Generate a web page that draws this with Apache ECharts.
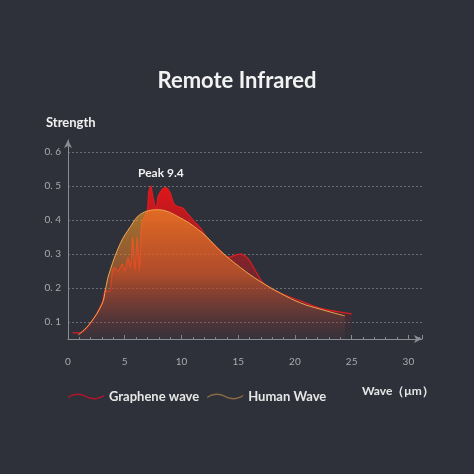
<!DOCTYPE html>
<html>
<head>
<meta charset="utf-8">
<script src="https://cdn.jsdelivr.net/npm/echarts@6/dist/echarts.min.js"></script>
<style>
html,body{margin:0;padding:0;background:#2e3139;}
#main{width:474px;height:474px;}
</style>
</head>
<body>
<div id="main"></div>
<script>
// Data
var grapheneX = [0.4,1.1,1.9,3.0,3.3,3.45,3.7,3.9,4.1,4.4,4.8,5.0,5.3,5.5,5.7,5.9,6.1,6.3,6.5,7.0,7.1,7.3,7.5,7.8,7.9,8.3,8.6,9.0,9.3,9.6,10.1,10.5,11.0,11.7,12.2,13.4,14.1,15.2,15.9,16.7,17.2,18.7,20.5,22.2,25.0];
var grapheneY = [0.068,0.068,0.092,0.155,0.197,0.19,0.19,0.245,0.26,0.25,0.27,0.25,0.29,0.26,0.35,0.25,0.35,0.25,0.39,0.43,0.48,0.50,0.465,0.43,0.465,0.49,0.495,0.48,0.45,0.44,0.435,0.42,0.40,0.375,0.35,0.31,0.29,0.30,0.285,0.24,0.215,0.185,0.162,0.141,0.124];
var humanX = [0.9,1.9,3.0,3.3,3.6,4.6,5.5,6.4,7.9,9.9,11.9,13.4,15.2,16.9,18.7,20.5,22.2,24.4];
var humanY = [0.062,0.094,0.153,0.195,0.24,0.33,0.38,0.417,0.43,0.406,0.36,0.31,0.26,0.22,0.185,0.156,0.138,0.118];
var seriesNames = ['Graphene wave','Human Wave'];
var titleText = 'Remote Infrared';
var yName = 'Strength';
var xName = 'Wave\uFF08\u03BCm\uFF09';
var peakText = 'Peak 9.4';

function zip(xs, ys){ return xs.map(function(x,i){ return [x, ys[i]]; }); }

var chart = echarts.init(document.getElementById('main'), null, {renderer:'canvas'});
var font = 'Lato, "Open Sans", sans-serif';
var wavePath = 'path://M0,5 C6,1 12,1 18,4 C24,7 30,7 36,3 L36,4.5 C30,8.5 24,8.5 18,5.5 C12,2.5 6,2.5 0,6.5 Z';

chart.setOption({
  backgroundColor: '#2e3139',
  animation: false,
  title: {
    text: titleText,
    left: 'center',
    top: 65,
    textStyle: {color:'#f2f2f2', fontSize:22, fontWeight:'bold', fontFamily:font}
  },
  legend: {
    left: 63,
    top: 385,
    itemWidth: 36,
    itemHeight: 9,
    itemGap: 8,
    textStyle: {color:'#e6e6e6', fontSize:13, fontWeight:'bold', fontFamily:font},
    data: [
      {name: seriesNames[0], icon: wavePath, itemStyle:{color:'#b3162c'}},
      {name: seriesNames[1], icon: wavePath, itemStyle:{color:'#8a6a44'}}
    ]
  },
  grid: {left: 68, right: 52, top: 140, bottom: 135},
  xAxis: {
    type: 'value',
    min: 0, max: 31.2, interval: 5,
    axisLine: {show:true, lineStyle:{color:'#8a8d94', width:1}, symbol:['none','arrow'], symbolSize:[6,8]},
    axisTick: {show:true, inside:true, length:4, lineStyle:{color:'#8a8d94'}},
    minorTick: {show:true, splitNumber:5, length:2, lineStyle:{color:'#8a8d94'}},
    axisLabel: {color:'#a9abb0', fontSize:10, margin:18, showMaxLabel:false, fontFamily:font},
    splitLine: {show:false}
  },
  yAxis: {
    type: 'value',
    min: 0.05, max: 0.635, interval: 0.05,
    axisLine: {show:true, lineStyle:{color:'#8a8d94', width:1}, symbol:['none','arrow'], symbolSize:[6,8]},
    axisTick: {show:false},
    axisLabel: {
      color:'#a9abb0', fontSize:10, margin:7, fontFamily:font,
      formatter: function(v){
        var k = Math.round(v*100);
        if (k % 10 !== 0 || k < 10 || k > 60) return '';
        return (k/100).toFixed(1).replace('.', '. ');
      }
    },
    splitLine: {show:true, lineStyle:{color:['rgba(0,0,0,0)','#6a6d74'], type:[2,2], width:1}}
  },
  graphic: [
    {type:'text', left:46, top:116, style:{text:yName, fill:'#f0f0f0', font:'bold 13px '+font}},
    {type:'text', left:138, top:167, style:{text:peakText, fill:'#f0f0f0', font:'bold 12px '+font}},
    {type:'text', left:362, top:385, style:{text:xName, fill:'#e6e6e6', font:'bold 12px '+font}}
  ],
  series: [
    {
      name: seriesNames[0],
      type: 'line',
      data: zip(grapheneX, grapheneY),
      smooth: 0.25,
      showSymbol: false,
      lineStyle: {color:'#dc1c22', width:1.2},
      itemStyle: {color:'#b3162c'},
      areaStyle: {
        opacity: 1,
        color: new echarts.graphic.LinearGradient(0,0,0,1,[
          {offset:0, color:'rgba(228,20,24,1)'},
          {offset:0.75, color:'rgba(200,22,30,0.25)'},
          {offset:1, color:'rgba(180,22,30,0)'}
        ])
      },
      z: 2
    },
    {
      name: seriesNames[1],
      type: 'line',
      data: zip(humanX, humanY),
      smooth: 0.4,
      showSymbol: false,
      lineStyle: {color:'#eea64e', width:1},
      itemStyle: {color:'#8a6a44'},
      areaStyle: {
        opacity: 1,
        color: new echarts.graphic.LinearGradient(0,0,0,1,[
          {offset:0, color:'rgba(245,160,40,0.6)'},
          {offset:0.5, color:'rgba(232,115,40,0.5)'},
          {offset:1, color:'rgba(100,60,70,0.15)'}
        ])
      },
      z: 3
    }
  ]
});
</script>
</body>
</html>
